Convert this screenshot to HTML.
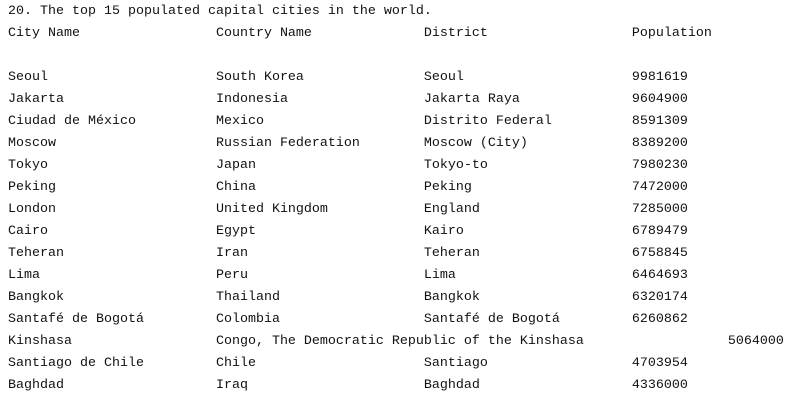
<!DOCTYPE html>
<html><head><meta charset="utf-8"><style>
html,body{margin:0;padding:0;background:#fff;width:786px;height:414px;overflow:hidden}
pre{position:absolute;left:8px;top:1px;margin:0;font-family:"Liberation Mono",monospace;font-size:13.333px;line-height:22px;color:#111;white-space:pre}
</style></head><body>
<pre><span>20. The top 15 populated capital cities in the world.</span>
<span>City Name                 Country Name              District                  Population</span>

<span>Seoul                     South Korea               Seoul                     9981619</span>
<span>Jakarta                   Indonesia                 Jakarta Raya              9604900</span>
<span>Ciudad de México          Mexico                    Distrito Federal          8591309</span>
<span>Moscow                    Russian Federation        Moscow (City)             8389200</span>
<span>Tokyo                     Japan                     Tokyo-to                  7980230</span>
<span>Peking                    China                     Peking                    7472000</span>
<span>London                    United Kingdom            England                   7285000</span>
<span>Cairo                     Egypt                     Kairo                     6789479</span>
<span>Teheran                   Iran                      Teheran                   6758845</span>
<span>Lima                      Peru                      Lima                      6464693</span>
<span>Bangkok                   Thailand                  Bangkok                   6320174</span>
<span>Santafé de Bogotá         Colombia                  Santafé de Bogotá         6260862</span>
<span>Kinshasa                  Congo, The Democratic Republic of the Kinshasa                  5064000</span>
<span>Santiago de Chile         Chile                     Santiago                  4703954</span>
<span>Baghdad                   Iraq                      Baghdad                   4336000</span></pre>
</body></html>
